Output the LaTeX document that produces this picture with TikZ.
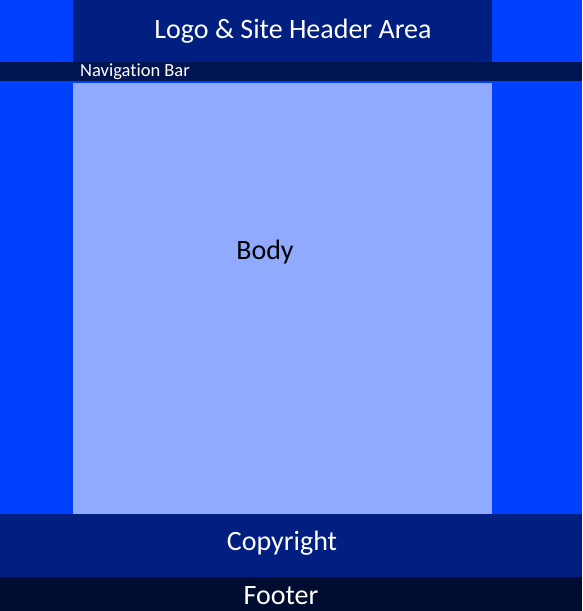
\documentclass[tikz,border=0pt]{standalone}
\usepackage{fontspec}
\setmainfont[Ligatures=NoCommon]{Carlito}
\definecolor{side}{RGB}{0,64,255}
\definecolor{hdr}{RGB}{0,31,128}
\definecolor{nav}{RGB}{0,20,82}
\definecolor{bodyc}{RGB}{143,170,255}
\definecolor{foot}{RGB}{0,12,48}
\tikzset{
  region/.style={inner sep=0pt, outer sep=0pt},
  bigtxt/.style={font=\fontsize{28}{32}\selectfont, inner sep=0pt},
  smalltxt/.style={font=\fontsize{18.5}{22}\selectfont, inner sep=0pt}
}
\begin{document}
\begin{tikzpicture}[x=1pt,y=-1pt]
\useasboundingbox (0,0) rectangle (582,611);
\fill[side] (0,0) rectangle (582,611);
\fill[hdr] (73,0) rectangle (492,62);
\fill[nav] (0,62) rectangle (582,81);
\fill[bodyc] (73,83) rectangle (492,514);
\fill[hdr] (0,514) rectangle (582,577);
\fill[foot] (0,577) rectangle (582,611);
\node[bigtxt, text=white] (header) at (293,31) {Logo \& Site Header Area};
\node[smalltxt, text=white, anchor=west] (navbar) at (80,72) {Navigation Bar};
\node[bigtxt, text=black] (body) at (265,252) {Body};
\node[bigtxt, text=white] (copy) at (282,543) {Copyright};
\node[bigtxt, text=white] (footer) at (281,596) {Footer};
\end{tikzpicture}
\end{document}
